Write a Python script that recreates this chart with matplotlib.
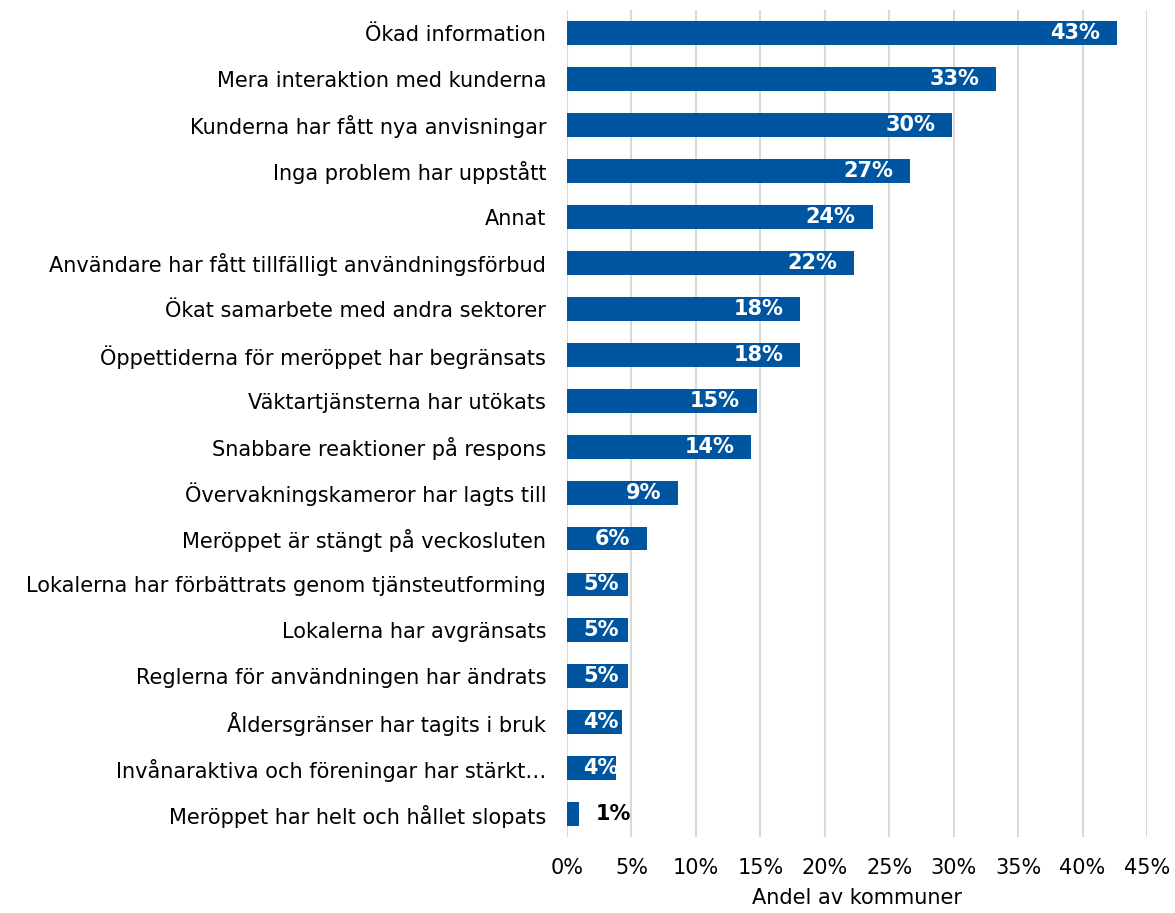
# bibliotek
import matplotlib.pyplot as plt
from matplotlib.ticker import PercentFormatter

# data
kategorier = [
    'Ökad information',
    'Mera interaktion med kunderna',
    'Kunderna har fått nya anvisningar',
    'Inga problem har uppstått',
    'Annat',
    'Användare har fått tillfälligt användningsförbud',
    'Ökat samarbete med andra sektorer',
    'Öppettiderna för meröppet har begränsats',
    'Väktartjänsterna har utökats',
    'Snabbare reaktioner på respons',
    'Övervakningskameror har lagts till',
    'Meröppet är stängt på veckosluten',
    'Lokalerna har förbättrats genom tjänsteutforming',
    'Lokalerna har avgränsats',
    'Reglerna för användningen har ändrats',
    'Åldersgränser har tagits i bruk',
    'Invånaraktiva och föreningar har stärkt…',
    'Meröppet har helt och hållet slopats',
]
andelar = [42.7, 33.3, 29.9, 26.6, 23.7, 22.3, 18.1, 18.1, 14.7, 14.3,
           8.6, 6.2, 4.7, 4.7, 4.7, 4.3, 3.8, 0.93]
etiketter = ['43%', '33%', '30%', '27%', '24%', '22%', '18%', '18%', '15%', '14%',
             '9%', '6%', '5%', '5%', '5%', '4%', '4%', '1%']

bla = '#0055A0'
fs = 15

fig = plt.figure(figsize=(11.75, 9.13), dpi=100)
ax = fig.add_axes([0.4826, 0.083, 0.4936, 0.906])

y = range(len(kategorier))
staplar = ax.barh(y, andelar, height=0.52, color=bla, zorder=2)

# dataetiketter
for bar, v, txt in zip(staplar, andelar, etiketter):
    yc = bar.get_y() + bar.get_height() / 2
    if v < 2:
        ax.annotate(txt, (v, yc), xytext=(17, 0), textcoords='offset pixels',
                    ha='left', va='center', color='black', fontweight='bold', fontsize=fs)
    elif v < 6:
        t = ax.annotate(txt, (0, yc), xytext=(16, 0), textcoords='offset pixels',
                        ha='left', va='center', color='white', fontweight='bold', fontsize=fs)
        t.set_clip_path(bar)
    else:
        ax.annotate(txt, (v, yc), xytext=(-17, 0), textcoords='offset pixels',
                    ha='right', va='center', color='white', fontweight='bold', fontsize=fs)

# axlar
ax.set_xlim(0, 45)
ax.set_ylim(len(kategorier) - 0.5, -0.5)
ax.set_xticks(range(0, 50, 5))
ax.xaxis.set_major_formatter(PercentFormatter(decimals=0))
ax.set_yticks(list(y))
ax.set_yticklabels(kategorier)
ax.tick_params(axis='both', length=0, labelsize=fs)
ax.tick_params(axis='x', pad=15)
ax.tick_params(axis='y', pad=15)
ax.grid(axis='x', color='#D9D9D9', linewidth=1.5, zorder=0)
for s in ax.spines.values():
    s.set_visible(False)
ax.set_xlabel('Andel av kommuner', fontsize=fs, labelpad=7)

plt.savefig('out.png', dpi=100)
